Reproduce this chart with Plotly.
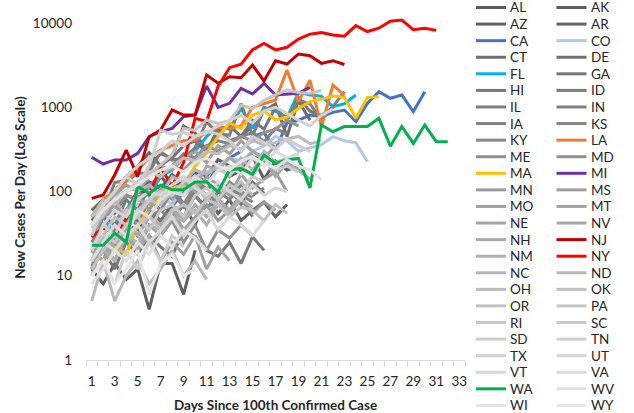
import plotly.graph_objects as go

# ---------------- data ----------------
states = ["AL","AK","AZ","AR","CA","CO","CT","DE","FL","GA","HI","ID","IL","IN","IA","KS","KY","LA",
          "ME","MD","MA","MI","MN","MS","MO","MT","NE","NV","NH","NJ","NM","NY","NC","ND","OH","OK",
          "OR","PA","RI","SC","SD","TN","TX","UT","VT","VA","WA","WV","WI","WY"]

AL = [45, 60, 55, 90, 80, 95, 150, 110, 130, 170, 120, 200, 150, 180, 260, 140, 230, 180, 200]
AK = [12, 8, 14, 9, 12, 4, 14, 14, 6, 20]
AZ = [40, 55, 70, 50, 100, 130, 110, 160, 120, 180, 150, 240, 200, 170, 260, 230, 180, 250]
AR = [20, 30, 22, 40, 35, 60, 45, 50, 70, 40, 90, 55, 80, 45, 60, 75, 50, 70]
CA = [30, 25, 40, 50, 45, 80, 60, 66, 100, 150, 120, 200, 250, 300, 450, 500, 310, 650, 700, 808,
      773, 870, 927, 674, 1113, 1530, 1277, 1397, 885, 1530]
CO = [30, 40, 60, 50, 70, 80, 90, 70, 110, 150, 170, 200, 250, 230, 300, 350, 450, 400, 300, 330,
      360, 447, 400, 380, 226]
CT = [60, 80, 100, 150, 200, 290, 200, 260, 600, 500, 300, 550, 400, 450, 600, 900, 1100, 450, 1200, 700]
DE = [15, 25, 20, 40, 30, 55, 45, 70, 50, 90, 65, 80, 110, 70, 130, 95]
FL = [30, 50, 30, 60, 100, 90, 150, 180, 250, 300, 450, 600, 550, 970, 560, 1000, 900, 750, 1500,
      1400, 1350, 1016, 1100, 1397]
GA = [50, 80, 100, 150, 120, 200, 280, 250, 350, 400, 300, 500, 600, 450, 700, 550, 1000, 700, 1300,
      900, 800, 1000]
HI = [15, 20, 12, 25, 18, 30, 22, 17, 35, 29, 20, 17, 25, 14, 29, 20]
ID = [30, 50, 40, 80, 60, 110, 90, 120, 70, 100, 130, 80, 60, 90, 50]
IL = [12, 55, 128, 134, 163, 168, 296, 236, 250, 330, 673, 488, 465, 1105, 461, 937, 986, 715, 1209,
      1100, 700, 1016, 1530]
IN = [25, 40, 60, 90, 80, 120, 150, 200, 280, 250, 350, 400, 370, 450, 500, 390, 560, 480]
IA = [20, 15, 35, 25, 40, 50, 60, 45, 70, 90, 60, 100, 80, 120, 90, 110]
KS = [25, 40, 30, 60, 50, 80, 70, 100, 65, 90, 120, 80, 110, 90, 75]
KY = [15, 30, 25, 50, 40, 80, 60, 100, 70, 120, 90, 80, 130, 100, 85]
LA = [50, 80, 100, 131, 180, 250, 310, 350, 400, 409, 500, 580, 560, 600, 1000, 1100, 1220, 2760,
      1165, 2100, 590, 1837, 1397]
ME = [20, 15, 30, 18, 40, 25, 30, 45, 25, 40, 20, 35, 28, 40, 30]
MD = [40, 50, 60, 90, 80, 110, 150, 200, 180, 250, 350, 300, 380, 450, 400, 500, 550, 700, 600]
MA = [20, 15, 22, 18, 40, 60, 95, 110, 120, 200, 285, 450, 650, 560, 808, 900, 710, 760, 970, 1165,
      1250, 1357, 1310, 742, 1310, 1330]
MI = [255, 212, 237, 237, 284, 447, 512, 562, 773, 809, 1787, 998, 1113, 1676, 1435, 1925, 1397,
      1435, 1463, 1723]
MN = [15, 25, 20, 40, 30, 50, 40, 60, 35, 50, 70, 45, 60, 80, 55, 75, 60]
MS = [30, 50, 70, 40, 90, 60, 110, 80, 130, 100, 150, 120, 90, 160, 110, 140, 170, 100]
MO = [30, 60, 90, 120, 100, 150, 200, 180, 250, 300, 220, 350, 280, 400, 300, 250, 350]
MT = [20, 15, 25, 35, 20, 30, 15, 25, 18, 30, 12, 22, 15]
NE = [10, 25, 15, 30, 20, 40, 30, 50, 35, 45, 60]
NV = [20, 40, 30, 60, 80, 70, 100, 120, 150, 110, 200, 180, 250, 200, 300, 250, 150, 220, 180, 140]
NH = [15, 30, 20, 40, 30, 50, 40, 60, 45, 70, 50, 80, 60, 90]
NJ = [83, 91, 157, 310, 150, 447, 537, 927, 809, 808, 2415, 1925, 2305, 2240, 3170, 2050, 3570,
      3260, 4290, 4090, 3320, 3570, 3220]
NM = [12, 20, 15, 30, 25, 40, 35, 50, 45, 60, 40, 70, 55, 80, 65]
NY = [29, 37, 31, 47, 108, 93, 192, 116, 221, 740, 680, 1770, 2950, 3254, 4812, 5707, 4790, 5146,
      6447, 7377, 7683, 7195, 6984, 9298, 7917, 8669, 10482, 10841, 8327, 8658, 8174]
NC = [30, 60, 80, 50, 100, 120, 90, 150, 130, 180, 160, 200, 150, 250, 180, 300, 220, 250, 280]
ND = [5, 15, 5, 10, 15, 8, 12, 20, 10, 15, 9]
OH = [50, 80, 70, 100, 130, 170, 150, 200, 250, 230, 300, 280, 350, 320, 400, 360, 380, 420, 450, 370, 400]
OK = [20, 30, 50, 40, 60, 80, 70, 100, 90, 120, 80, 110, 100, 130, 90]
OR = [12, 20, 30, 25, 40, 50, 35, 60, 70, 55, 80, 70, 50, 65, 60, 45, 70, 55]
PA = [37, 52, 83, 103, 108, 165, 207, 276, 560, 531, 707, 643, 693, 1055, 962, 1211, 1404, 1597,
      1493, 1470, 1579]
RI = [20, 30, 25, 40, 50, 35, 60, 70, 50, 90, 110, 80, 120, 100, 150, 130]
SC = [20, 40, 30, 60, 50, 80, 100, 90, 130, 150, 120, 180, 160, 200, 150, 250, 180, 200, 170]
SD = [10, 15, 8, 20, 12, 25, 15, 30, 22]
TN = [30, 70, 100, 150, 120, 200, 530, 480, 500, 450, 520, 480, 400, 300, 450, 380, 320, 420, 350, 300]
TX = [40, 70, 100, 150, 200, 250, 300, 400, 350, 450, 500, 600, 700, 800, 650, 900, 1000, 850, 700,
      600, 800, 950]
UT = [20, 40, 60, 50, 80, 100, 90, 120, 150, 110, 90, 130, 100, 80, 120, 90, 110, 100]
VT = [15, 25, 20, 30, 40, 25, 35, 50, 30, 45, 60, 35, 50, 40, 30, 45]
VA = [15, 25, 40, 30, 60, 50, 80, 100, 90, 150, 120, 180, 200, 160, 250, 200, 300, 250, 280]
WA = [23, 23, 32, 25, 115, 95, 119, 105, 105, 130, 130, 99, 180, 188, 160, 270, 215, 237, 247, 110,
      615, 512, 590, 590, 590, 742, 345, 590, 372, 615, 390, 390]
WV = [8, 12, 20, 15, 25, 18, 30, 22, 35, 28, 20]
WI = [40, 60, 80, 100, 120, 150, 180, 200, 170, 220, 250, 200, 180, 230, 260, 210, 190, 240, 200, 180, 137]
WY = [10, 15, 8, 12, 20, 6, 14, 18, 10, 12]

series = {s: globals()[s] for s in states}

y_tickvals = [1, 10, 100, 1000, 10000]
y_ticktext = ["1", "10", "100", "1000", "10000"]
x_tickvals = list(range(1, 34, 2))

# ---------------- styles ----------------
highlight = {"CA": "#4472C4", "CO": "#B4C7E7", "FL": "#00B0F0", "LA": "#ED7D31", "MA": "#FFC000",
             "MI": "#7030A0", "NJ": "#C00000", "NY": "#FF0000", "WA": "#00B050"}

def gray(i):
    g = int(round(92 + (230 - 92) * i / (len(states) - 1)))
    return "#%02x%02x%02x" % (g, g, g)

colors = {s: highlight.get(s, gray(i)) for i, s in enumerate(states)}

W, H = 634, 413
ML, MR, MT_, MB = 86, 169, 15, 53
PW, PH = W - ML - MR, H - MT_ - MB
FONT = "Lato, Open Sans, sans-serif"
TXT = "#262626"

fig = go.Figure()
for s in states:
    vals = series[s]
    fig.add_trace(go.Scatter(
        x=list(range(1, len(vals) + 1)), y=vals, name=s, mode="lines",
        line=dict(color=colors[s], width=3), showlegend=False))

# manual legend (two columns, row-major order)
shapes, annots = [], []
def px2paper(px, py):
    return (px - ML) / PW, (H - MB - py) / PH
for i, s in enumerate(states):
    row, col = divmod(i, 2)
    py = 7.5 + row * 16.58
    lx0 = 476 + col * 80.5
    x0, yy = px2paper(lx0, py)
    x1, _ = px2paper(lx0 + 30, py)
    shapes.append(dict(type="line", xref="paper", yref="paper", x0=x0, x1=x1, y0=yy, y1=yy,
                       line=dict(color=colors[s], width=3)))
    tx, _ = px2paper(lx0 + 32, py)
    annots.append(dict(xref="paper", yref="paper", x=tx, y=yy, text=s, showarrow=False,
                       xanchor="left", yanchor="middle", font=dict(family=FONT, size=13.5, color=TXT)))

fig.update_layout(
    width=W, height=H, margin=dict(l=ML, r=MR, t=MT_, b=MB, autoexpand=False),
    paper_bgcolor="white", plot_bgcolor="white",
    font=dict(family=FONT, color=TXT), shapes=shapes, annotations=annots, showlegend=False,
    xaxis=dict(range=[0.5, 33.5], tickvals=x_tickvals, ticktext=[str(v) for v in x_tickvals],
               ticks="", showgrid=False, zeroline=False, showline=True, linecolor="#D9D9D9",
               linewidth=1, tickfont=dict(size=13.5, color=TXT), ticklabelstandoff=9,
               automargin=False,
               minor=dict(tickvals=[k + 0.5 for k in range(0, 34)], ticks="outside", ticklen=6,
                          tickcolor="#D9D9D9", tickwidth=1, showgrid=False),
               title=dict(text="<b>Days Since 100th Confirmed Case</b>", font=dict(size=13.5, color=TXT),
                          standoff=13)),
    yaxis=dict(type="log", range=[0, PH / 84.25], tickvals=y_tickvals, ticktext=y_ticktext,
               ticks="", showgrid=False, zeroline=False, showline=False, automargin=False,
               tickfont=dict(size=13.5, color=TXT), ticklabelstandoff=13,
               title=dict(text="<b>New Cases Per Day (Log Scale)</b>", font=dict(size=13.5, color=TXT),
                          standoff=4)),
)

fig.write_html("out.html", config={"displayModeBar": False},
               post_script="document.body.style.margin='0';")
